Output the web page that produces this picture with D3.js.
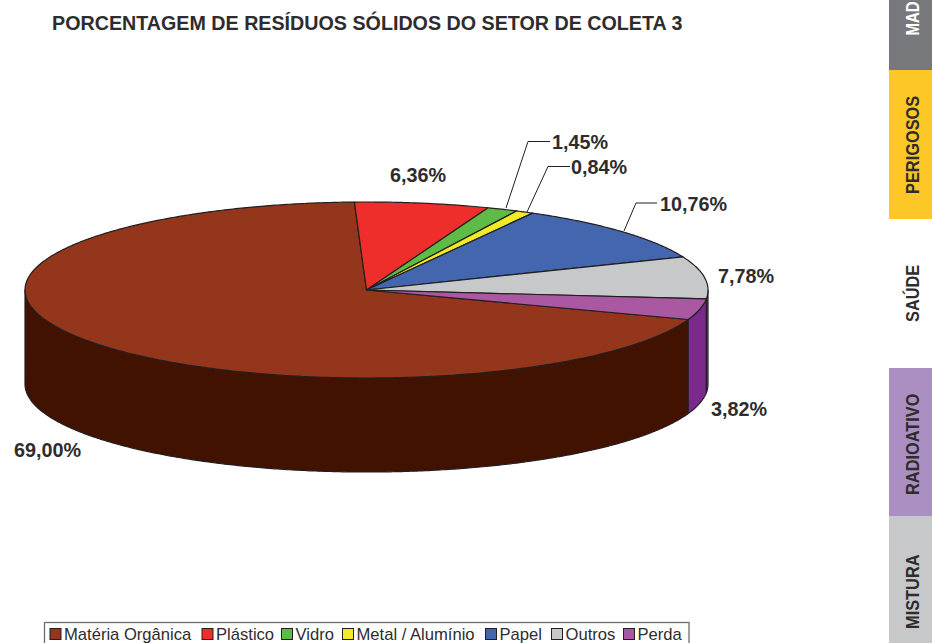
<!DOCTYPE html>
<html><head><meta charset="utf-8">
<script src="https://cdn.jsdelivr.net/npm/d3@7/dist/d3.min.js"></script>
<style>html,body{margin:0;padding:0;background:#fff}svg{display:block}text{font-family:"Liberation Sans",Arial,sans-serif;fill:#2e2c2d}</style>
</head><body><svg id="c" width="932" height="643"></svg>
<script>
const title = "PORCENTAGEM DE RESÍDUOS SÓLIDOS DO SETOR DE COLETA 3";
const categories = ["Matéria Orgânica","Plástico","Vidro","Metal / Alumínio","Papel","Outros","Perda"];
const values = [69.00,6.36,1.45,0.84,10.76,7.78,3.82];
const valueLabels = ["69,00%","6,36%","1,45%","0,84%","10,76%","7,78%","3,82%"];
const topColors = ["#93361c","#ee2e2b","#5dbb46","#f2e927","#4466ae","#c6c8ca","#aa58a2"];
const sideColors = ["#411200","#8e1a18","#2f7a25","#a39c10","#263f78","#58595b","#7b2a8c"];
const tabs = [["MAD","#77787b",-80,70,"#ffffff",35.5,0.85],["PERIGOSOS","#fdc727",70,219,"#2e2c2d",194,0.93],["SAÚDE","#ffffff",219,368,"#2e2c2d",322,0.93],["RADIOATIVO","#ab8fc2",368,516,"#2e2c2d",495,0.93],["MISTURA","#c6c8ca",516,664,"#2e2c2d",629,0.93]];

const svg = d3.select("#c");
const cx = 366.5, cy = 290, rx = 341.5, ry = 88, depth = 94;
const ink = "#231f20";
const sx = d3.scaleLinear().domain([-1,1]).range([cx-rx,cx+rx]);
const sy = d3.scaleLinear().domain([-1,1]).range([cy-ry,cy+ry]);
const deg = Math.PI/180;
const start = -250.4*deg;
const arcs = d3.pie().sort(null).startAngle(start).endAngle(start+2*Math.PI)(values);
const rim = (a,dy=0)=>[sx(Math.sin(a)), sy(-Math.cos(a))+dy];
const samples = (a0,a1)=>{const n=Math.max(2,Math.ceil((a1-a0)/(0.5*deg)));return d3.range(n+1).map(i=>a0+(a1-a0)*i/n);};
const line = d3.line();

const wallSpans = [];
arcs.forEach((d,i)=>{
  for (const k of [-1,0]) {
    const lo = Math.max(d.startAngle, Math.PI/2 + k*2*Math.PI), hi = Math.min(d.endAngle, 3*Math.PI/2 + k*2*Math.PI);
    if (hi>lo) wallSpans.push({i,lo,hi});
  }
});
svg.append("g").selectAll("path").data(wallSpans).join("path")
  .attr("d",s=>{const t=samples(s.lo,s.hi);return line([...t.map(a=>rim(a)),...t.slice().reverse().map(a=>rim(a,depth))])+"Z";})
  .attr("fill",s=>sideColors[s.i]).attr("stroke",ink).attr("stroke-width",1.2).attr("stroke-linejoin","round");

svg.append("g").selectAll("path").data(arcs).join("path")
  .attr("d",d=>line([[cx,cy],...samples(d.startAngle,d.endAngle).map(a=>rim(a))])+"Z")
  .attr("fill",(d,i)=>topColors[i]).attr("stroke",ink).attr("stroke-width",1.2).attr("stroke-linejoin","round");

const labelPos = [[14,457],[390,182],[552,149],[571,174],[660,211],[718,283],[711,416]];
svg.append("g").selectAll("text").data(valueLabels).join("text")
  .attr("x",(d,i)=>labelPos[i][0]).attr("y",(d,i)=>labelPos[i][1])
  .attr("font-size",19.8).attr("font-weight","bold").text(d=>d);
const leaders = [[[506,208],[528,141.5],[550,141.5]],[[527,212],[548,166.5],[570,166.5]],[[624,231],[636,203],[657,203]]];
svg.append("g").selectAll("path").data(leaders).join("path")
  .attr("d",d=>line(d)).attr("fill","none").attr("stroke",ink).attr("stroke-width",1);

svg.append("text").attr("x",52).attr("y",30).attr("font-size",19.7).attr("font-weight","bold").text(title);

const lg = svg.append("g");
lg.append("rect").attr("x",44.5).attr("y",622.5).attr("width",644.5).attr("height",30).attr("fill","#fff").attr("stroke","#6d6e70").attr("stroke-width",1.3);
const itemX = [49.5,201.5,281,342,485,551,623];
const items = lg.selectAll("g").data(categories).join("g").attr("transform",(d,i)=>`translate(${itemX[i]},0)`);
items.append("rect").attr("x",0.5).attr("y",628.5).attr("width",11).attr("height",11).attr("fill",(d,i)=>topColors[i]).attr("stroke",ink).attr("stroke-width",1);
items.append("text").attr("x",14.5).attr("y",640).attr("font-size",16.6).text(d=>d);

const tabG = svg.append("g");
tabG.selectAll("rect").data(tabs).join("rect").attr("x",889).attr("width",43).attr("y",d=>d[2]).attr("height",d=>d[3]-d[2]).attr("fill",d=>d[1]);
tabG.selectAll("text").data(tabs).join("text")
  .attr("transform",d=>`translate(918.5,${d[5]}) rotate(-90) scale(${d[6]},1)`)
  .attr("font-size",17.6).attr("font-weight","bold").style("fill",d=>d[4]).text(d=>d[0]);
</script></body></html>
